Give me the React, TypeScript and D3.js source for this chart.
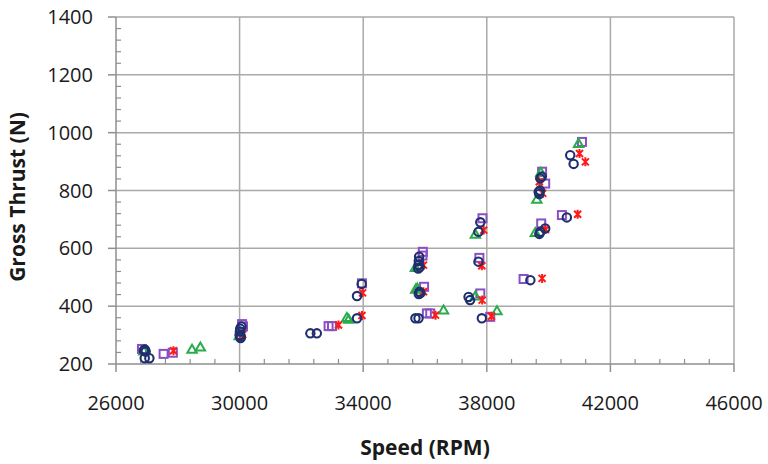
import React from "react";
import * as d3 from "d3";

type Pt = [number, number];

// Speed (RPM), Gross Thrust (N) for each test series
const circleSeries: Pt[] = [
  [26930, 250], [26960, 243], [26900, 247], [26930, 220], [27080, 220],
  [30020, 322], [30000, 300], [30030, 290], [30060, 330], [30010, 312], [30040, 295],
  [32290, 306], [32500, 306], [33800, 358],
  [33800, 435], [33950, 477],
  [35810, 571], [35790, 542], [35780, 530], [35800, 556], [35830, 535],
  [35820, 450], [35850, 445], [35800, 442],
  [35690, 358], [35790, 358],
  [37460, 421], [37410, 432],
  [37730, 554],
  [37790, 690], [37730, 657],
  [37840, 358],
  [39410, 490],
  [39730, 657], [39890, 669], [39700, 650],
  [39730, 842], [39680, 795], [39700, 788], [39780, 848], [39720, 800],
  [40590, 707],
  [40700, 922], [40810, 892],
];

const squareSeries: Pt[] = [
  [26840, 252], [27540, 235], [27840, 239],
  [30080, 338], [30110, 330],
  [32880, 331], [32990, 331],
  [33960, 479],
  [35930, 588], [35920, 575],
  [35970, 467],
  [36060, 375], [36170, 375],
  [37790, 444],
  [37760, 567],
  [37860, 704],
  [38110, 363],
  [39190, 494],
  [39760, 686],
  [39790, 865], [39890, 824],
  [40430, 715],
  [41080, 968],
];

const triangleSeries: Pt[] = [
  [26900, 242], [28460, 248], [28730, 256],
  [29990, 295],
  [33470, 358], [33530, 352],
  [35690, 531], [35700, 456], [35750, 460],
  [36600, 384],
  [37630, 432], [37630, 646],
  [38330, 381],
  [39570, 652],
  [39620, 767], [39750, 860],
  [40970, 960],
];

const starSeries: Pt[] = [
  [27860, 246],
  [30100, 302],
  [33200, 335], [33960, 368],
  [33980, 446],
  [35950, 542], [35950, 450],
  [36340, 369],
  [37850, 421], [37840, 540], [37900, 663],
  [38150, 365],
  [39790, 496],
  [39900, 665],
  [39810, 790], [39700, 830],
  [40940, 718],
  [41000, 928], [41190, 899],
];

const xTicks = [26000, 30000, 34000, 38000, 42000, 46000];
const yTicks = [200, 400, 600, 800, 1000, 1200, 1400];
const xTitle = "Speed (RPM)";
const yTitle = "Gross Thrust (N)";

const W = 768;
const H = 464;
const left = 116;
const right = 734;
const top = 17;
const bottom = 364;

const font = "'Open Sans', 'Liberation Sans', sans-serif";
const gridColor = "#a9a9a9";
const axisColor = "#8f8f8f";

export default function App() {
  const x = d3.scaleLinear().domain([26000, 46000]).range([left, right]);
  const y = d3.scaleLinear().domain([200, 1400]).range([bottom, top]);

  const xMinor = d3.range(26000, 46001, 800).filter((v) => !xTicks.includes(v));
  const yMinor = d3.range(200, 1401, 40).filter((v) => !yTicks.includes(v));

  const triPath = d3.symbol().type(d3.symbolTriangle).size(38)() as string;

  return (
    <svg
      width={W}
      height={H}
      style={{ position: "absolute", left: 0, top: 0, background: "#fff" }}
    >
      {/* gridlines */}
      {xTicks.slice(1).map((v) => (
        <line key={"gx" + v} x1={x(v)} x2={x(v)} y1={top} y2={bottom} stroke={gridColor} strokeWidth={1.5} />
      ))}
      {yTicks.slice(1).map((v) => (
        <line key={"gy" + v} x1={left} x2={right} y1={y(v)} y2={y(v)} stroke={gridColor} strokeWidth={1.5} />
      ))}

      {/* axes */}
      <line x1={left} x2={left} y1={top} y2={bottom} stroke={axisColor} strokeWidth={1.5} />
      <line x1={left} x2={right} y1={bottom} y2={bottom} stroke={axisColor} strokeWidth={1.5} />
      {xTicks.map((v) => (
        <line key={"tx" + v} x1={x(v)} x2={x(v)} y1={bottom} y2={bottom + 8} stroke={axisColor} strokeWidth={1.5} />
      ))}
      {xMinor.map((v) => (
        <line key={"mx" + v} x1={x(v)} x2={x(v)} y1={bottom} y2={bottom - 5} stroke={axisColor} strokeWidth={1.2} />
      ))}
      {yTicks.map((v) => (
        <line key={"ty" + v} x1={left - 8} x2={left} y1={y(v)} y2={y(v)} stroke={axisColor} strokeWidth={1.5} />
      ))}
      {yMinor.map((v) => (
        <line key={"my" + v} x1={left} x2={left + 5} y1={y(v)} y2={y(v)} stroke={axisColor} strokeWidth={1.2} />
      ))}

      {/* tick labels */}
      {xTicks.map((v) => (
        <text key={"lx" + v} x={x(v)} y={410} textAnchor="middle" fontFamily={font} fontSize={20} fill="#1a1a1a">
          {v}
        </text>
      ))}
      {yTicks.map((v) => (
        <text key={"ly" + v} x={93} y={y(v)} dy="0.35em" textAnchor="end" fontFamily={font} fontSize={20} fill="#1a1a1a">
          {v}
        </text>
      ))}

      {/* axis titles */}
      <text x={(left + right) / 2} y={455} textAnchor="middle" fontFamily={font} fontSize={21} fontWeight={700} fill="#1a1a1a">
        {xTitle}
      </text>
      <text
        transform={`translate(25,197) rotate(-90)`}
        textAnchor="middle"
        fontFamily={font}
        fontSize={21}
        fontWeight={700}
        fill="#1a1a1a"
      >
        {yTitle}
      </text>

      {/* series markers */}
      <g fill="none" stroke="#8a4fc4" strokeWidth={2}>
        {squareSeries.map(([a, b], i) => (
          <rect key={"s" + i} x={x(a) - 4} y={y(b) - 4} width={8} height={8} />
        ))}
      </g>
      <g fill="none" stroke="#27ad4a" strokeWidth={2}>
        {triangleSeries.map(([a, b], i) => (
          <path key={"t" + i} d={triPath} transform={`translate(${x(a)},${y(b)})`} />
        ))}
      </g>
      <g fill="none" stroke="#ff1a1a" strokeWidth={2}>
        {starSeries.map(([a, b], i) => (
          <path
            key={"r" + i}
            d="M-3.5,-3.5L3.5,3.5M-3.5,3.5L3.5,-3.5M0,-4.5L0,4.5"
            transform={`translate(${x(a)},${y(b)})`}
          />
        ))}
      </g>
      <g fill="none" stroke="#1f2f6e" strokeWidth={2.1}>
        {circleSeries.map(([a, b], i) => (
          <circle key={"c" + i} cx={x(a)} cy={y(b)} r={4.2} />
        ))}
      </g>
    </svg>
  );
}
